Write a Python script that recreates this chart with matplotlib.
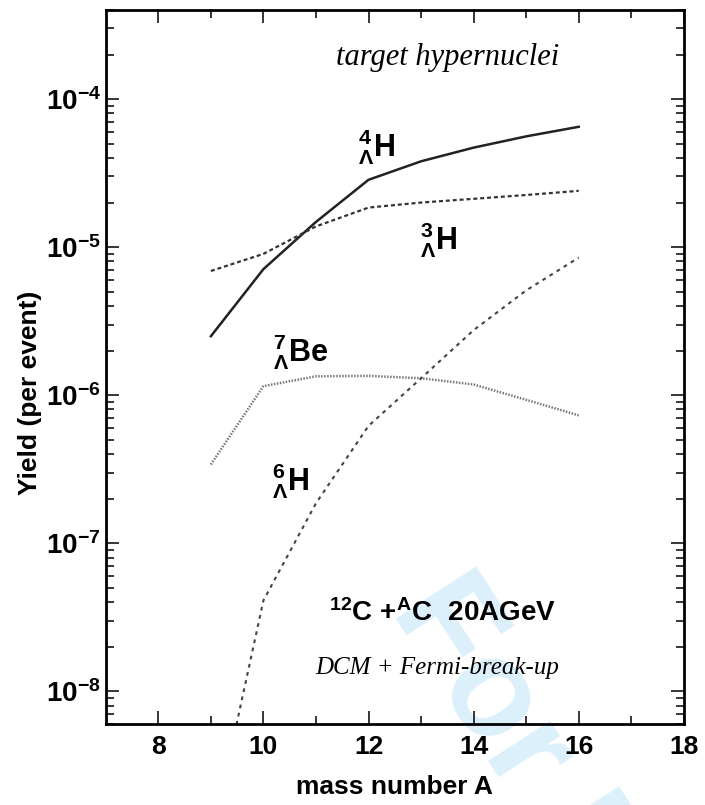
import math

import matplotlib
matplotlib.use("Agg")
import matplotlib.pyplot as plt
from matplotlib.ticker import FixedLocator, LogLocator, FuncFormatter, NullFormatter

# hypernucleus yields vs. target mass number (DCM + Fermi break-up)
mass_a = [9, 10, 11, 12, 13, 14, 15, 16]
yield_h4 = [2.5e-6, 7.1e-6, 1.48e-5, 2.85e-5, 3.8e-5, 4.7e-5, 5.6e-5, 6.5e-5]
yield_h3 = [6.9e-6, 9.0e-6, 1.38e-5, 1.85e-5, 2.0e-5, 2.12e-5, 2.25e-5, 2.4e-5]
yield_be7 = [3.4e-7, 1.15e-6, 1.34e-6, 1.35e-6, 1.3e-6, 1.18e-6, 9.3e-7, 7.3e-7]
yield_h6 = [9.5e-10, 4.1e-8, 1.86e-7, 6.2e-7, 1.3e-6, 2.75e-6, 5.1e-6, 8.5e-6]

x_major = [8, 10, 12, 14, 16, 18]
x_minor = [9, 11, 13, 15, 17]

plt.rcParams["font.family"] = ["Liberation Sans", "DejaVu Sans"]
plt.rcParams["font.weight"] = "bold"
plt.rcParams["mathtext.fontset"] = "custom"
for key in ("rm", "it", "bf", "sf"):
    plt.rcParams["mathtext." + key] = "Liberation Sans:bold"
plt.rcParams["mathtext.default"] = "rm"

fig = plt.figure(figsize=(7.05, 8.05), dpi=100)
ax = fig.add_axes([0.150, 0.1006, 0.820, 0.887])

# faint watermark behind the curves
ax.text(0.553, 0.242, "For Peer Review", transform=fig.transFigure,
        rotation=-57, rotation_mode="anchor", ha="left", va="baseline",
        fontsize=100, weight="bold", color="#dcf0fc", zorder=0,
        clip_on=False)

ax.plot(mass_a, yield_h4, "-", color="#222222", lw=1.8)
ax.plot(mass_a, yield_h3, color="#333333", lw=1.6, linestyle=(0, (1.8, 1.3)))
ax.plot(mass_a, yield_be7, color="#777777", lw=1.8, linestyle=(0, (0.6, 0.6)))
ax.plot(mass_a, yield_h6, color="#444444", lw=1.5, linestyle=(0, (1.8, 2.2)))

ax.set_xlim(7, 18)
ax.set_yscale("log")
ax.set_ylim(6e-9, 4e-4)

ax.xaxis.set_major_locator(FixedLocator(x_major))
ax.xaxis.set_minor_locator(FixedLocator(x_minor))
ax.yaxis.set_major_locator(LogLocator(base=10))
ax.yaxis.set_minor_locator(LogLocator(base=10, subs=range(2, 10)))
ax.yaxis.set_major_formatter(FuncFormatter(lambda v, p: r"$10^{%d}$" % round(math.log10(v))))
ax.yaxis.set_minor_formatter(NullFormatter())

ax.tick_params(which="both", direction="in", top=True, right=True, width=1.1)
ax.tick_params(which="major", length=9.5)
ax.tick_params(which="minor", length=6)
ax.tick_params(axis="x", labelsize=19, pad=8)
ax.tick_params(axis="y", labelsize=20, pad=3.5)
for side in ax.spines.values():
    side.set_linewidth(2)
    side.set_zorder(3)

ax.set_xlabel("mass number A", fontsize=19, fontweight="bold")
ax.xaxis.set_label_coords(0.5, -0.072)
ax.set_ylabel("Yield (per event)", fontsize=19, fontweight="bold")
ax.yaxis.set_label_coords(-0.111, 0.464)

iso = dict(fontsize=22, ha="left", va="center", zorder=4)
ax.text(11.8, 4.74e-5, r"${}^{4}_{\Lambda}\mathrm{H}$", **iso)
ax.text(12.98, 1.11e-5, r"${}^{3}_{\Lambda}\mathrm{H}$", **iso)
ax.text(10.18, 1.94e-6, r"${}^{7}_{\Lambda}\mathrm{Be}$", **iso)
ax.text(10.16, 2.62e-7, r"${}^{6}_{\Lambda}\mathrm{H}$", **iso)

ax.text(0.592, 0.933, "target hypernuclei", transform=ax.transAxes,
        ha="center", va="center", fontsize=22, family="Liberation Serif",
        style="italic", weight="normal", zorder=4)
ax.text(0.583, 0.155, r"${}^{12}\mathrm{C}\ {+}{}^{A}\mathrm{C}\ \ 20\mathrm{AGeV}$",
        transform=ax.transAxes, ha="center", va="center", fontsize=20, zorder=4)
ax.text(0.574, 0.078, "DCM + Fermi-break-up", transform=ax.transAxes,
        ha="center", va="center", fontsize=18, family="Liberation Serif",
        style="italic", weight="normal", zorder=4)

fig.savefig("out.png", dpi=100)
